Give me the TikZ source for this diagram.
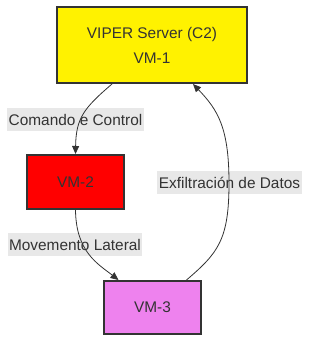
\documentclass[tikz,border=0pt]{standalone}
\usepackage{fontspec}
\setmainfont{Liberation Sans}
\usetikzlibrary{arrows.meta}
\definecolor{txt}{HTML}{333333}
\definecolor{lblbg}{HTML}{E8E8E8}
\definecolor{vmviolet}{HTML}{EE82EE}
\tikzset{
  box/.style={draw=txt, line width=2pt, text=txt, inner sep=0pt, align=center,
    font=\fontsize{15.4}{25}\selectfont},
  lbl/.style={fill=lblbg, text=txt, inner xsep=1.5pt, inner ysep=0pt,
    minimum height=23pt, font=\fontsize{15.4}{18}\selectfont},
  edge/.style={draw=txt, line width=0.8pt},
  arr/.style={edge, -{Triangle[length=8pt,width=7pt]}}
}
\begin{document}
\begin{tikzpicture}[x=1pt,y=-1pt]
\useasboundingbox (0,0) rectangle (317,350);
\node[box, fill=yellow, minimum width=190pt, minimum height=76pt] (vm1) at (152,45) {VIPER Server (C2)\\VM-1};
\node[box, fill=red, minimum width=97pt, minimum height=54pt] (vm2) at (75.5,182) {VM-2};
\node[box, fill=vmviolet, minimum width=97pt, minimum height=53pt] (vm3) at (152.5,307.5) {VM-3};
\node[lbl] (l1) at (75.5,119.5) {Comando e Control};
\node[lbl] (l2) at (75,244.5) {Movemento Lateral};
\node[lbl] (l3) at (229.5,182.5) {Exfiltración de Datos};
\draw[arr] ([xshift=-40pt]vm1.south) .. controls (84,108) and (76,118) .. (vm2.north);
\draw[arr] (vm2.south) .. controls (76,252) and (98,264) .. ([xshift=-34pt]vm3.north);
\draw[arr] ([xshift=34pt]vm3.north) .. controls (218,253) and (229,240) .. (229,183)
   .. controls (229,128) and (218,110) .. ([xshift=41pt]vm1.south);
\end{tikzpicture}
\end{document}
